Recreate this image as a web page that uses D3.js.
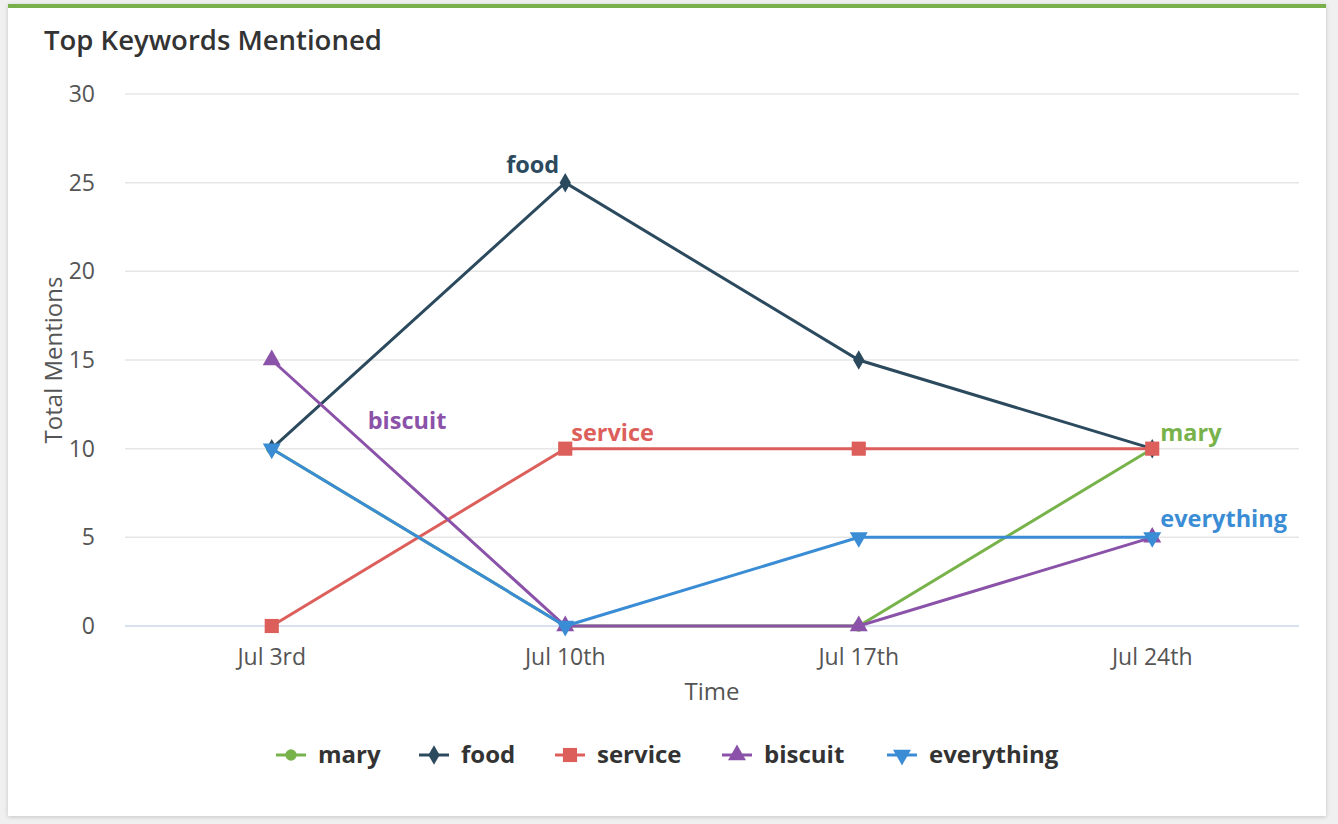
<!DOCTYPE html>
<html><head><meta charset="utf-8">
<script src="https://cdn.jsdelivr.net/npm/d3@7"></script>
<style>
html,body{margin:0;padding:0;background:#f0f0f0;}
svg{display:block;font-family:"Open Sans",sans-serif;}
</style></head>
<body>
<svg id="c" width="1338" height="824"></svg>
<script>
const categories = ["Jul 3rd","Jul 10th","Jul 17th","Jul 24th"];
const seriesNames = ["mary","food","service","biscuit","everything"];
const mary = [10,0,0,10];
const food = [10,25,15,10];
const service = [0,10,10,10];
const biscuit = [15,0,0,5];
const everything = [10,0,5,5];
const yTicks = [0,5,10,15,20,25,30];
const colors = ["#77b34a","#2c4a5e","#dc5f5b","#8a52a8","#3a8dd5"];
const symbols = [d3.symbolCircle,d3.symbolDiamond,d3.symbolSquare,d3.symbolTriangle,"down"];
const values = [mary,food,service,biscuit,everything];

const svg = d3.select("#c");
const defs = svg.append("defs");
const f = defs.append("filter").attr("id","sh").attr("x","-5%").attr("y","-5%").attr("width","110%").attr("height","110%");
f.append("feDropShadow").attr("dx",0).attr("dy",1).attr("stdDeviation",2).attr("flood-color","#000").attr("flood-opacity",0.18);

svg.append("rect").attr("x",8).attr("y",4).attr("width",1318).attr("height",812).attr("fill","#fff").attr("filter","url(#sh)");
svg.append("rect").attr("x",8).attr("y",4).attr("width",1318).attr("height",4).attr("fill","#79b04b");

svg.append("text").attr("x",44).attr("y",50).text("Top Keywords Mentioned")
  .attr("font-size",27.5).attr("font-weight",600).attr("fill","#333");

const L=125,R=1299,T=94,B=626;
const x = d3.scaleBand().domain(categories).range([L,R]);
const y = d3.scaleLinear().domain([0,30]).range([B,T]);
const cx = c => x(c)+x.bandwidth()/2;

const g = svg.append("g");
yTicks.forEach(t=>{
  g.append("line").attr("x1",L).attr("x2",R).attr("y1",y(t)).attr("y2",y(t))
   .attr("stroke", t===0?"#ccd6eb":"#e6e6e6").attr("stroke-width",1.5);
  g.append("text").attr("x",95).attr("y",y(t)+8).attr("text-anchor","end")
   .attr("font-size",23).attr("fill","#555").text(t);
});
categories.forEach(c=>{
  g.append("text").attr("x",cx(c)).attr("y",665).attr("text-anchor","middle")
   .attr("font-size",23).attr("fill","#555").text(c);
});
g.append("text").attr("transform","translate(62,360) rotate(-90)").attr("text-anchor","middle")
 .attr("font-size",24).attr("fill","#555").text("Total Mentions");
g.append("text").attr("x",712).attr("y",700).attr("text-anchor","middle")
 .attr("font-size",24).attr("fill","#555").text("Time");

function sym(i,size){
  if(symbols[i]==="down") return d3.symbol(d3.symbolTriangle,size)();
  return d3.symbol(symbols[i],size)();
}
const sizes=[100,110,200,140,140];
const line = d3.line().x((d,i)=>cx(categories[i])).y(d=>y(d));
values.forEach((vals,i)=>{
  const sg = svg.append("g");
  sg.append("path").attr("d",line(vals)).attr("fill","none").attr("stroke",colors[i]).attr("stroke-width",3);
  vals.forEach((v,j)=>{
    sg.append("path").attr("d",sym(i,sizes[i]))
      .attr("transform",`translate(${cx(categories[j])},${y(v)})`+(symbols[i]==="down"?" rotate(180)":""))
      .attr("fill",colors[i]);
  });
});

// series labels
const labels = [
  {i:0,j:3,dx:8,dy:-8,anchor:"start"},
  {i:1,j:1,dx:-6,dy:-10,anchor:"end"},
  {i:2,j:1,dx:6,dy:-8,anchor:"start"},
  {i:3,j:0,dx:96,dy:-20,anchor:"start"},
  {i:4,j:3,dx:8,dy:-10,anchor:"start"}
];
labels.forEach(l=>{
  const px=cx(categories[l.j]), py=y(values[l.i][l.j]);
  svg.append("text").attr("x",px+l.dx).attr("y",l.i===3? y(10)-20 : py+l.dy)
    .attr("text-anchor",l.anchor).attr("font-size",23.5).attr("font-weight",700)
    .attr("fill",colors[l.i]).text(seriesNames[l.i]);
});

// legend
const lg = svg.append("g");
const legX=[276,419,555,722,887];
seriesNames.forEach((n,i)=>{
  const x0=legX[i], yy=755;
  lg.append("line").attr("x1",x0).attr("x2",x0+30).attr("y1",yy).attr("y2",yy).attr("stroke",colors[i]).attr("stroke-width",3);
  lg.append("path").attr("d",sym(i,sizes[i])).attr("transform",`translate(${x0+15},${yy})`+(symbols[i]==="down"?" rotate(180)":"")).attr("fill",colors[i]);
  lg.append("text").attr("x",x0+42).attr("y",yy+8).attr("font-size",24).attr("font-weight",700).attr("fill","#333").text(n);
});
</script>
</body></html>
